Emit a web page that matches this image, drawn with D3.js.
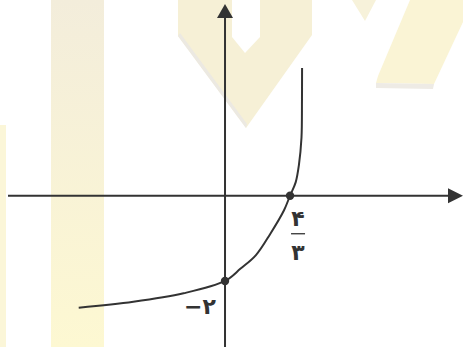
<!DOCTYPE html>
<html>
<head>
<meta charset="utf-8">
<script src="https://cdn.jsdelivr.net/npm/d3@7"></script>
<style>
  html, body { margin: 0; padding: 0; background: #fff; }
  svg { display: block; }
</style>
</head>
<body>
<div id="chart"></div>
<script>
// curve points (math units)
const curveX = [-3.0, -1.88, -0.85, 0, 0.32, 0.63, 0.93, 1.21, 1.333, 1.45, 1.515, 1.568, 1.578, 1.58];
const curveY = [-2.63, -2.49, -2.29, -2, -1.71, -1.4, -0.89, -0.34, 0, 0.32, 0.72, 1.36, 2.25, 3.0];

// marked points
const markX = [4 / 3, 0];
const markY = [0, -2];

// labels (Persian digits)
const fracTop = '۴';
const fracBottom = '۳';
const yLabel = '−۲';

const width = 463, height = 347;

const x = d3.scaleLinear().domain([-4.45, 4.88]).range([8, 463]);
const y = d3.scaleLinear().domain([-3.55, 4.5]).range([347, 4]);

const svg = d3.select('#chart')
  .append('svg')
  .attr('width', width)
  .attr('height', height);

// faint watermark in the background
const bg = svg.append('g').attr('class', 'watermark');
const grad = svg.append('defs').append('linearGradient')
  .attr('id', 'stripe').attr('x1', 0).attr('y1', 0).attr('x2', 0).attr('y2', 1);
grad.append('stop').attr('offset', '0%').attr('stop-color', '#f3eddb');
grad.append('stop').attr('offset', '100%').attr('stop-color', '#fdf8d2');
bg.append('rect').attr('x', 51).attr('y', 0).attr('width', 53).attr('height', height).attr('fill', 'url(#stripe)');
bg.append('rect').attr('x', 0).attr('y', 125).attr('width', 6).attr('height', height - 125).attr('fill', '#fbf6d8');
bg.append('path')
  .attr('d', 'M178,0 L312,0 L312,35 L246,128 L178,36 Z M232,0 L232,37 L245,53 L260,37 L260,0 Z')
  .attr('fill', '#f6f0d6').attr('fill-rule', 'evenodd');
bg.append('path')
  .attr('d', 'M178,36 L246,128 L247,124 L180,33 Z')
  .attr('fill', '#ece9e2');
bg.append('path')
  .attr('d', 'M352,0 L376,0 L365,21 Z')
  .attr('fill', '#f7f2da');
bg.append('path')
  .attr('d', 'M410,0 L463,0 L463,22 L434,84 L376,83 L378,76 Z')
  .attr('fill', '#faf4d5');
bg.append('path')
  .attr('d', 'M376,83 L434,84 L433,89 L376,88 Z')
  .attr('fill', '#eeebe5');

const axisColor = '#333';

// x axis with arrow
svg.append('line')
  .attr('x1', x.range()[0]).attr('x2', x.range()[1] - 14)
  .attr('y1', y(0)).attr('y2', y(0))
  .attr('stroke', axisColor).attr('stroke-width', 2);
svg.append('path')
  .attr('d', `M${x.range()[1]},${y(0)} L${x.range()[1] - 15},${y(0) - 7.5} L${x.range()[1] - 15},${y(0) + 7.5} Z`)
  .attr('fill', axisColor);

// y axis with arrow
svg.append('line')
  .attr('x1', x(0)).attr('x2', x(0))
  .attr('y1', y.range()[0]).attr('y2', y.range()[1] + 13)
  .attr('stroke', axisColor).attr('stroke-width', 2);
svg.append('path')
  .attr('d', `M${x(0)},${y.range()[1]} L${x(0) - 8},${y.range()[1] + 14} L${x(0) + 8},${y.range()[1] + 14} Z`)
  .attr('fill', axisColor);

// the curve
const line = d3.line()
  .x((d) => x(d[0]))
  .y((d) => y(d[1]))
  .curve(d3.curveCatmullRom.alpha(0.5));

svg.append('path')
  .datum(d3.zip(curveX, curveY))
  .attr('d', line)
  .attr('fill', 'none')
  .attr('stroke', '#333')
  .attr('stroke-width', 2);

svg.selectAll('.mark')
  .data(d3.zip(markX, markY))
  .join('circle')
  .attr('class', 'mark')
  .attr('cx', (d) => x(d[0]))
  .attr('cy', (d) => y(d[1]))
  .attr('r', 4.2)
  .attr('fill', '#333');

// labels
const lab = svg.append('g')
  .attr('font-family', 'DejaVu Sans, sans-serif')
  .attr('font-size', 22)
  .attr('font-weight', 'bold')
  .attr('fill', '#333')
  .attr('text-anchor', 'middle');

const fx = x(markX[0]) + 8;
lab.append('text').attr('x', fx).attr('y', y(0) + 30).text(fracTop);
lab.append('line')
  .attr('x1', fx - 7).attr('x2', fx + 7)
  .attr('y1', y(0) + 38).attr('y2', y(0) + 38)
  .attr('stroke', '#333').attr('stroke-width', 1.3);
lab.append('text').attr('x', fx).attr('y', y(0) + 64).text(fracBottom);

lab.append('text')
  .attr('x', x(0) - 25).attr('y', y(markY[1]) + 33)
  .text(yLabel);
</script>
</body>
</html>
